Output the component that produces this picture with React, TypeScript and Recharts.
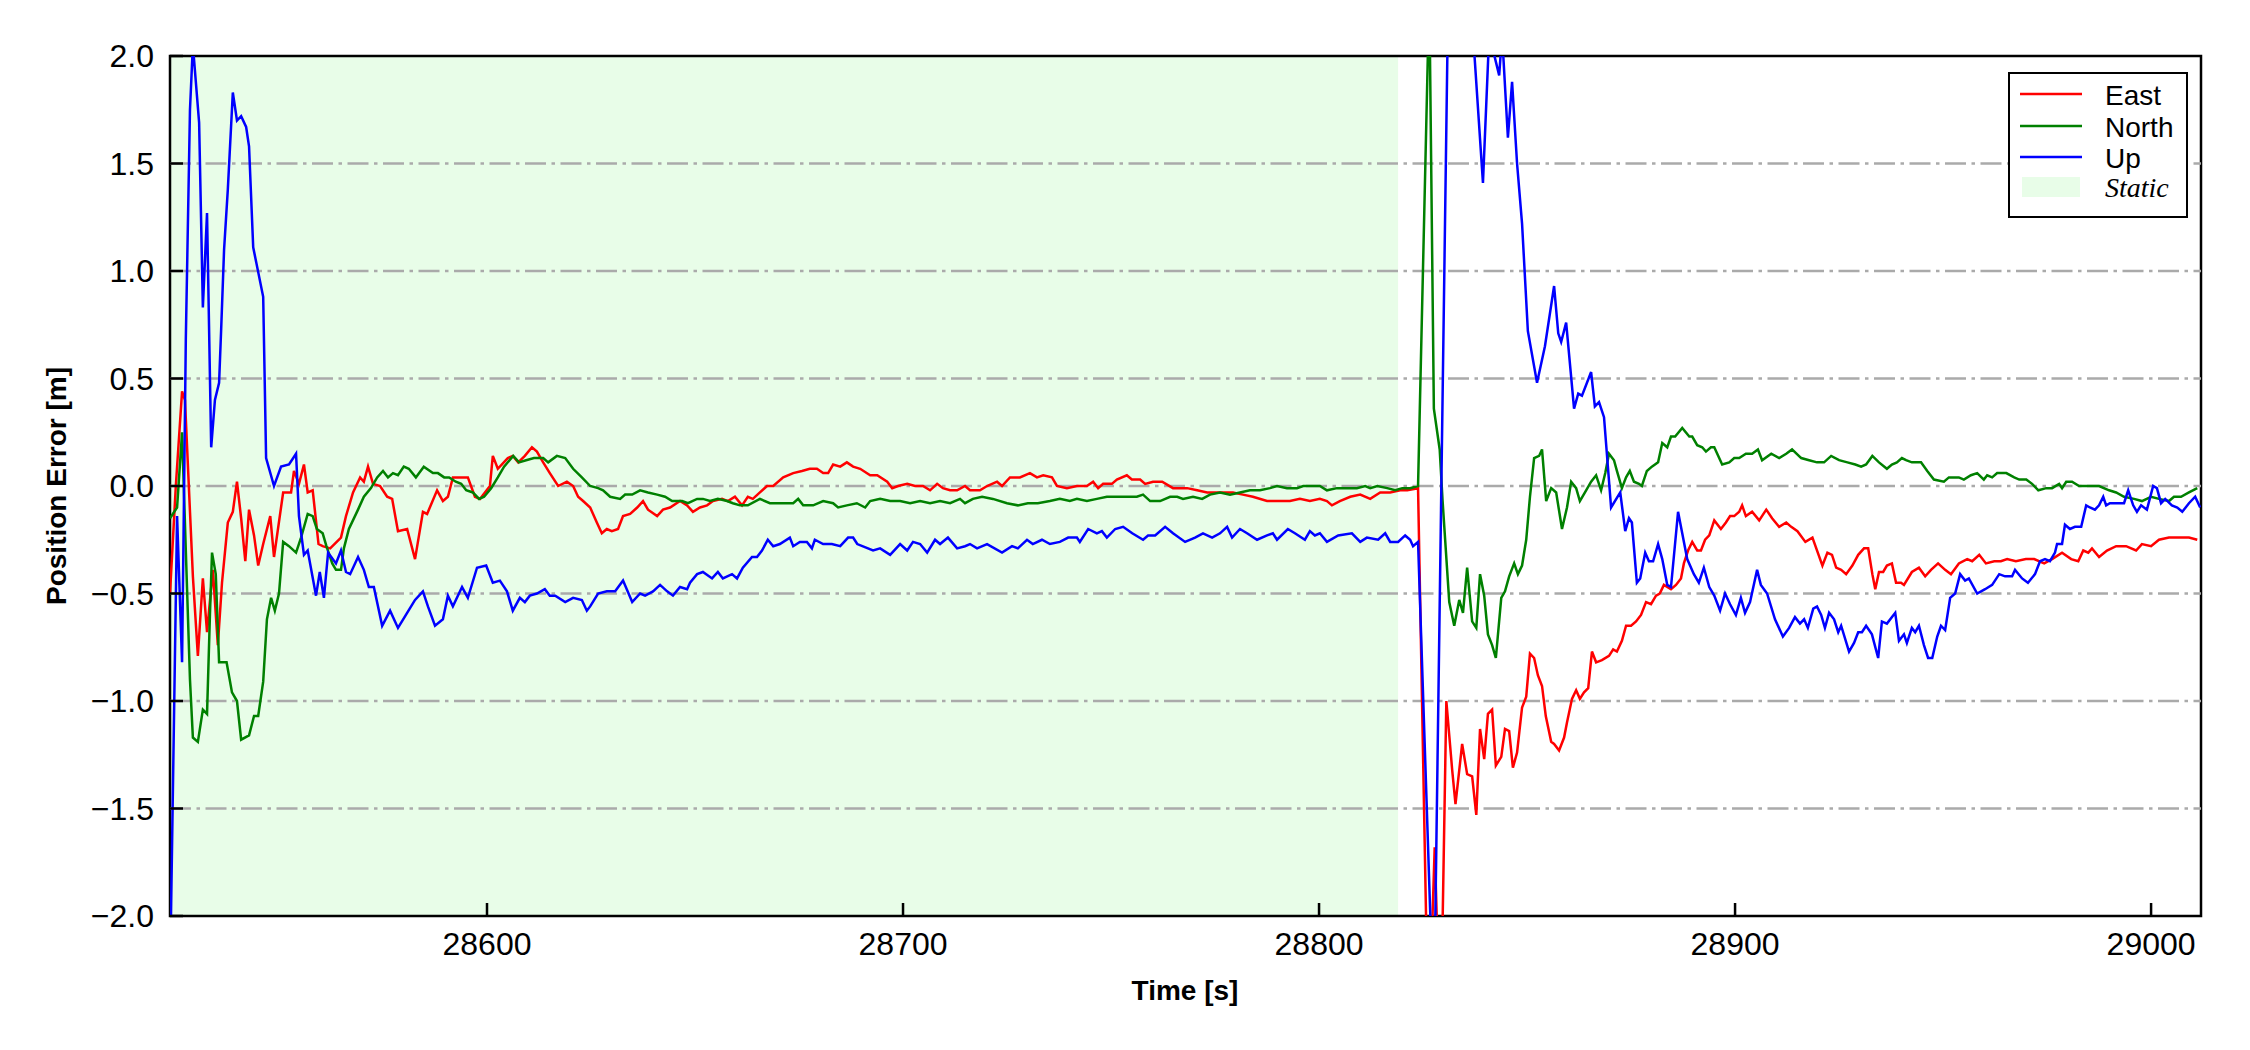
import React from 'react'
import { LineChart, Line, XAxis, YAxis, ReferenceArea, ReferenceLine } from 'recharts'

// [time s, error m]
const east: number[][] = [
  [28523.8, -0.5], [28525.2, 0.0], [28526.7, 0.44], [28527.4, 0.4], [28529.3, -0.42], [28530.5, -0.79], [28531.7, -0.43],
  [28532.7, -0.68], [28534.1, -0.39], [28535.3, -0.74], [28536.3, -0.45], [28537.7, -0.17], [28538.9, -0.12], [28539.9, 0.02],
  [28540.9, -0.15], [28541.9, -0.35], [28542.8, -0.11], [28544.0, -0.23], [28545.0, -0.37], [28546.2, -0.27], [28547.9, -0.14],
  [28548.8, -0.33], [28551.0, -0.03], [28552.9, -0.03], [28553.6, 0.07], [28554.8, 0.01], [28556.0, 0.1], [28556.9, -0.03],
  [28558.1, -0.02], [28559.5, -0.27], [28560.5, -0.28], [28562.3, -0.29], [28564.9, -0.24], [28566.1, -0.14], [28567.8, -0.03],
  [28569.5, 0.04], [28570.4, 0.02], [28571.4, 0.09], [28572.6, 0.01], [28574.3, 0.0], [28576.0, -0.05], [28577.2, -0.06],
  [28578.6, -0.21], [28580.8, -0.2], [28582.7, -0.34], [28584.6, -0.12], [28585.6, -0.13], [28588.0, -0.02], [28589.4, -0.07],
  [28590.6, -0.05], [28591.8, 0.04], [28594.0, 0.04], [28595.4, 0.04], [28597.1, -0.05], [28598.3, -0.06], [28599.5, -0.03],
  [28600.7, 0.0], [28601.4, 0.14], [28602.6, 0.08], [28605.0, 0.13], [28606.2, 0.14], [28607.5, 0.11], [28609.1, 0.14],
  [28610.8, 0.18], [28612.0, 0.16], [28613.5, 0.11], [28615.1, 0.06], [28617.1, 0.0], [28619.2, 0.02], [28620.7, 0.0],
  [28621.9, -0.05], [28623.1, -0.07], [28624.8, -0.1], [28626.4, -0.17], [28627.6, -0.22], [28628.8, -0.2], [28630.0, -0.21],
  [28631.5, -0.2], [28632.7, -0.14], [28634.4, -0.13], [28636.1, -0.1], [28637.5, -0.07], [28638.7, -0.11], [28640.9, -0.14],
  [28642.3, -0.11], [28644.0, -0.1], [28646.4, -0.07], [28648.1, -0.09], [28649.5, -0.12], [28651.2, -0.1], [28652.9, -0.09],
  [28654.3, -0.07], [28656.5, -0.06], [28657.9, -0.07], [28659.6, -0.05], [28661.3, -0.09], [28662.7, -0.05], [28663.9, -0.06],
  [28665.6, -0.03], [28667.3, 0.0], [28668.8, 0.0], [28671.2, 0.04], [28673.6, 0.06], [28675.7, 0.07], [28677.6, 0.08],
  [28679.3, 0.08], [28680.8, 0.06], [28682.0, 0.06], [28683.2, 0.1], [28684.9, 0.09], [28686.5, 0.11], [28688.0, 0.09],
  [28689.7, 0.08], [28692.1, 0.05], [28693.8, 0.05], [28696.2, 0.02], [28697.4, -0.01], [28698.8, 0.0], [28701.0, 0.01],
  [28702.9, 0.0], [28704.8, 0.0], [28706.5, -0.02], [28708.2, 0.01], [28709.6, -0.01], [28711.3, -0.02], [28713.0, -0.02],
  [28714.9, 0.0], [28716.1, -0.02], [28718.5, -0.02], [28720.2, 0.0], [28722.6, 0.02], [28723.8, 0.0], [28725.7, 0.04],
  [28728.1, 0.04], [28730.5, 0.06], [28732.2, 0.04], [28733.7, 0.05], [28735.8, 0.04], [28737.0, 0.0], [28739.4, -0.01],
  [28741.8, 0.0], [28744.2, 0.0], [28745.7, 0.02], [28746.9, -0.01], [28748.1, 0.01], [28750.2, 0.01], [28751.4, 0.03],
  [28753.8, 0.05], [28755.0, 0.03], [28757.0, 0.03], [28758.2, 0.01], [28760.1, 0.02], [28762.3, 0.02], [28764.9, -0.01],
  [28768.3, -0.01], [28770.7, -0.02], [28773.1, -0.03], [28776.2, -0.03], [28779.3, -0.03], [28781.7, -0.04], [28784.1, -0.05],
  [28787.5, -0.07], [28790.6, -0.07], [28793.0, -0.07], [28795.4, -0.06], [28797.8, -0.07], [28800.2, -0.06], [28801.9, -0.07],
  [28803.1, -0.09], [28805.0, -0.07], [28807.5, -0.05], [28809.9, -0.04], [28812.3, -0.06], [28814.7, -0.03], [28817.1, -0.03],
  [28819.5, -0.02], [28821.2, -0.02], [28823.8, -0.01], [28826.3, -2.6], [28827.8, -1.68], [28829.2, -2.6], [28830.6, -1.0],
  [28832.0, -1.32], [28832.8, -1.48], [28834.4, -1.2], [28835.6, -1.34], [28836.8, -1.35], [28837.8, -1.53], [28838.7, -1.13],
  [28839.7, -1.27], [28840.6, -1.06], [28841.6, -1.04], [28842.5, -1.3], [28843.8, -1.26], [28844.7, -1.13], [28845.7, -1.14],
  [28846.6, -1.31], [28847.6, -1.24], [28848.8, -1.03], [28849.8, -0.98], [28850.7, -0.78], [28851.7, -0.8], [28852.6, -0.88],
  [28853.6, -0.93], [28854.5, -1.07], [28855.8, -1.19], [28856.5, -1.2], [28857.7, -1.23], [28858.9, -1.17], [28859.6, -1.1],
  [28860.8, -0.99], [28861.8, -0.95], [28862.7, -0.99], [28863.7, -0.96], [28864.7, -0.94], [28865.6, -0.77], [28866.6, -0.82],
  [28868.0, -0.81], [28869.7, -0.79], [28870.7, -0.76], [28871.6, -0.77], [28872.8, -0.72], [28873.8, -0.65], [28875.0, -0.65],
  [28876.2, -0.63], [28877.4, -0.6], [28878.6, -0.54], [28879.8, -0.55], [28881.0, -0.51], [28881.9, -0.5], [28882.9, -0.46],
  [28884.6, -0.48], [28885.8, -0.46], [28887.0, -0.43], [28887.7, -0.36], [28888.7, -0.3], [28889.7, -0.26], [28890.9, -0.3],
  [28891.8, -0.3], [28892.8, -0.25], [28893.8, -0.23], [28895.0, -0.16], [28896.6, -0.2], [28897.8, -0.17], [28898.8, -0.14],
  [28899.8, -0.14], [28901.0, -0.12], [28901.7, -0.09], [28902.6, -0.14], [28904.1, -0.12], [28905.8, -0.16], [28907.5, -0.11],
  [28908.9, -0.15], [28910.6, -0.19], [28912.3, -0.17], [28913.5, -0.19], [28915.0, -0.21], [28916.9, -0.26], [28918.6, -0.24],
  [28921.0, -0.37], [28922.2, -0.31], [28923.3, -0.32], [28924.3, -0.38], [28925.5, -0.39], [28926.7, -0.41], [28928.2, -0.37],
  [28929.6, -0.32], [28931.0, -0.29], [28932.0, -0.29], [28933.0, -0.41], [28933.7, -0.48], [28934.6, -0.4], [28935.6, -0.4],
  [28936.5, -0.37], [28937.7, -0.36], [28938.7, -0.45], [28939.9, -0.45], [28940.6, -0.46], [28942.5, -0.4], [28944.2, -0.38],
  [28945.7, -0.42], [28947.1, -0.39], [28948.8, -0.36], [28950.5, -0.39], [28951.9, -0.41], [28953.8, -0.36], [28955.8, -0.34],
  [28957.0, -0.35], [28958.7, -0.32], [28960.3, -0.36], [28962.3, -0.35], [28963.9, -0.35], [28965.4, -0.34], [28967.5, -0.35],
  [28969.9, -0.34], [28971.9, -0.34], [28974.3, -0.36], [28976.2, -0.34], [28978.6, -0.31], [28980.8, -0.34], [28982.5, -0.35],
  [28983.7, -0.3], [28984.9, -0.31], [28985.8, -0.29], [28987.5, -0.33], [28989.4, -0.3], [28991.6, -0.28], [28994.0, -0.28],
  [28996.4, -0.3], [28997.8, -0.27], [29000.0, -0.28], [29001.9, -0.25], [29004.3, -0.24], [29006.7, -0.24], [29009.1, -0.24],
  [29011.1, -0.25],
]

const north: number[][] = [
  [28523.8, -0.15], [28525.5, -0.1], [28526.7, 0.25], [28527.6, -0.3], [28528.6, -0.9], [28529.3, -1.17], [28530.5, -1.19],
  [28531.7, -1.04], [28532.7, -1.06], [28533.4, -0.6], [28533.9, -0.31], [28534.8, -0.41], [28535.6, -0.82], [28537.4, -0.82],
  [28538.7, -0.96], [28539.9, -1.0], [28540.9, -1.18], [28542.8, -1.16], [28544.0, -1.07], [28545.0, -1.07], [28546.2, -0.91],
  [28547.1, -0.62], [28548.1, -0.52], [28549.0, -0.58], [28550.0, -0.5], [28551.0, -0.26], [28552.4, -0.28], [28554.1, -0.31],
  [28555.3, -0.24], [28556.9, -0.13], [28558.1, -0.14], [28559.1, -0.2], [28560.5, -0.22], [28561.4, -0.28], [28562.8, -0.36],
  [28563.7, -0.39], [28564.9, -0.39], [28565.6, -0.29], [28566.8, -0.2], [28569.0, -0.11], [28570.4, -0.05], [28572.1, -0.01],
  [28573.6, 0.04], [28575.0, 0.07], [28576.2, 0.04], [28577.4, 0.06], [28578.6, 0.05], [28580.0, 0.09], [28581.2, 0.08],
  [28582.9, 0.04], [28584.8, 0.09], [28587.0, 0.06], [28588.2, 0.06], [28589.7, 0.04], [28590.9, 0.04], [28592.5, 0.02],
  [28593.8, 0.01], [28595.0, -0.02], [28596.6, -0.03], [28598.1, -0.06], [28599.3, -0.05], [28601.0, -0.01], [28602.6, 0.04],
  [28604.1, 0.09], [28606.3, 0.14], [28607.7, 0.11], [28609.4, 0.12], [28611.3, 0.13], [28613.5, 0.13], [28614.7, 0.11],
  [28616.8, 0.14], [28618.8, 0.13], [28620.7, 0.08], [28622.8, 0.04], [28624.8, 0.0], [28626.7, -0.01], [28627.9, -0.02],
  [28629.6, -0.05], [28632.0, -0.06], [28633.2, -0.04], [28634.9, -0.04], [28636.8, -0.02], [28638.7, -0.03], [28640.9, -0.04],
  [28642.8, -0.05], [28644.5, -0.07], [28646.9, -0.07], [28648.3, -0.08], [28650.5, -0.06], [28651.9, -0.06], [28653.6, -0.07],
  [28655.5, -0.06], [28657.7, -0.07], [28659.1, -0.08], [28660.8, -0.09], [28662.7, -0.09], [28665.6, -0.06], [28668.0, -0.08],
  [28670.4, -0.08], [28673.6, -0.08], [28674.8, -0.06], [28676.0, -0.09], [28678.4, -0.09], [28680.8, -0.07], [28683.2, -0.08],
  [28684.4, -0.1], [28686.5, -0.09], [28688.9, -0.08], [28690.9, -0.1], [28692.1, -0.07], [28694.5, -0.06], [28696.9, -0.07],
  [28699.3, -0.07], [28701.7, -0.08], [28704.1, -0.07], [28706.5, -0.08], [28708.9, -0.07], [28711.3, -0.08], [28713.7, -0.06],
  [28714.9, -0.08], [28716.8, -0.06], [28719.0, -0.05], [28721.6, -0.06], [28725.0, -0.08], [28727.6, -0.09], [28730.0, -0.08],
  [28732.4, -0.08], [28735.3, -0.07], [28737.7, -0.06], [28740.1, -0.07], [28741.8, -0.06], [28744.2, -0.07], [28746.6, -0.06],
  [28749.0, -0.05], [28751.4, -0.05], [28753.8, -0.05], [28756.2, -0.05], [28757.7, -0.04], [28759.4, -0.07], [28761.8, -0.07],
  [28764.2, -0.05], [28765.9, -0.05], [28767.3, -0.06], [28769.7, -0.05], [28771.9, -0.06], [28773.8, -0.04], [28776.2, -0.03],
  [28778.6, -0.04], [28781.0, -0.03], [28783.4, -0.02], [28785.8, -0.02], [28788.2, -0.01], [28789.9, 0.0], [28792.3, -0.01],
  [28794.7, -0.01], [28796.2, 0.0], [28797.8, 0.0], [28800.2, 0.0], [28801.9, -0.02], [28804.3, -0.01], [28806.7, -0.01],
  [28809.1, -0.01], [28811.1, 0.0], [28812.3, -0.01], [28814.0, 0.0], [28816.4, -0.01], [28818.3, -0.02], [28820.0, -0.01],
  [28821.9, -0.01], [28823.8, 0.0], [28826.5, 2.3], [28827.6, 0.36], [28829.0, 0.17], [28829.7, -0.07], [28831.3, -0.54],
  [28832.5, -0.65], [28833.7, -0.53], [28834.6, -0.59], [28835.6, -0.38], [28836.8, -0.63], [28837.8, -0.66], [28838.7, -0.41],
  [28839.7, -0.51], [28840.6, -0.69], [28841.6, -0.74], [28842.5, -0.8], [28843.8, -0.52], [28844.7, -0.49], [28845.7, -0.42],
  [28846.9, -0.36], [28847.8, -0.41], [28848.8, -0.37], [28849.8, -0.25], [28850.7, -0.05], [28851.7, 0.13], [28852.9, 0.14],
  [28853.6, 0.17], [28854.6, -0.07], [28855.8, -0.01], [28857.0, -0.03], [28858.4, -0.2], [28859.6, -0.1], [28860.6, 0.02],
  [28861.8, -0.01], [28862.7, -0.07], [28864.2, -0.02], [28865.4, 0.02], [28866.6, 0.05], [28867.8, -0.02], [28868.8, 0.06],
  [28869.7, 0.15], [28870.9, 0.12], [28871.6, 0.07], [28872.8, -0.01], [28873.8, 0.04], [28874.7, 0.07], [28875.7, 0.02],
  [28876.9, 0.01], [28877.6, 0.0], [28878.8, 0.07], [28880.0, 0.09], [28881.5, 0.11], [28882.5, 0.2], [28883.7, 0.18],
  [28884.6, 0.23], [28885.6, 0.23], [28887.3, 0.27], [28889.0, 0.23], [28889.7, 0.23], [28890.9, 0.19], [28892.1, 0.18],
  [28893.0, 0.16], [28894.2, 0.18], [28895.0, 0.18], [28896.9, 0.1], [28898.6, 0.11], [28899.8, 0.13], [28901.0, 0.13],
  [28902.6, 0.15], [28904.1, 0.15], [28905.5, 0.17], [28906.5, 0.12], [28908.7, 0.15], [28910.6, 0.13], [28912.3, 0.15],
  [28913.7, 0.17], [28915.9, 0.13], [28917.8, 0.12], [28919.7, 0.11], [28921.4, 0.11], [28923.1, 0.14], [28925.0, 0.12],
  [28927.0, 0.11], [28928.9, 0.1], [28930.3, 0.09], [28931.5, 0.1], [28933.0, 0.14], [28934.6, 0.11], [28936.5, 0.08],
  [28937.7, 0.1], [28938.9, 0.11], [28940.1, 0.13], [28941.1, 0.12], [28942.5, 0.11], [28944.7, 0.11], [28946.2, 0.07],
  [28947.8, 0.03], [28950.2, 0.02], [28951.4, 0.04], [28953.8, 0.04], [28955.0, 0.03], [28956.7, 0.05], [28958.2, 0.06],
  [28959.8, 0.03], [28960.6, 0.05], [28961.8, 0.04], [28963.0, 0.06], [28965.2, 0.06], [28967.1, 0.04], [28968.3, 0.03],
  [28970.0, 0.03], [28971.4, 0.01], [28972.9, -0.02], [28974.8, -0.01], [28976.2, -0.01], [28977.9, 0.01], [28978.6, -0.01],
  [28979.6, 0.02], [28981.0, 0.02], [28982.7, 0.0], [28985.1, 0.0], [28987.5, 0.0], [28989.9, -0.02], [28991.6, -0.03],
  [28993.5, -0.05], [28995.9, -0.06], [28997.8, -0.07], [29000.0, -0.05], [29001.9, -0.06], [29004.3, -0.07], [29005.5, -0.05],
  [29007.2, -0.05], [29009.1, -0.03], [29011.1, -0.01],
]

const up: number[][] = [
  [28523.8, -2.3], [28525.5, -0.14], [28526.7, -0.82], [28527.6, 0.68], [28528.6, 1.75], [28529.3, 2.05], [28530.8, 1.69],
  [28531.7, 0.83], [28532.7, 1.27], [28533.7, 0.18], [28534.6, 0.4], [28535.6, 0.48], [28536.1, 0.73], [28536.8, 1.1],
  [28537.7, 1.38], [28538.9, 1.83], [28539.9, 1.7], [28540.9, 1.72], [28542.1, 1.67], [28542.8, 1.58], [28543.8, 1.11],
  [28546.2, 0.88], [28546.9, 0.13], [28548.8, 0.0], [28550.5, 0.09], [28552.4, 0.1], [28554.1, 0.15], [28554.8, -0.14],
  [28556.0, -0.32], [28556.9, -0.3], [28558.9, -0.51], [28559.8, -0.4], [28560.8, -0.52], [28561.8, -0.31], [28563.7, -0.36],
  [28564.9, -0.3], [28566.1, -0.4], [28567.1, -0.41], [28569.0, -0.33], [28570.4, -0.39], [28571.6, -0.47], [28572.8, -0.47],
  [28574.8, -0.65], [28576.7, -0.58], [28578.6, -0.66], [28580.8, -0.59], [28582.7, -0.53], [28584.6, -0.49], [28585.8, -0.56],
  [28587.5, -0.65], [28589.4, -0.62], [28590.6, -0.51], [28591.8, -0.56], [28594.0, -0.47], [28595.4, -0.52], [28597.6, -0.38],
  [28599.8, -0.37], [28601.4, -0.45], [28603.1, -0.44], [28604.8, -0.49], [28606.2, -0.58], [28607.9, -0.52], [28609.1, -0.54],
  [28610.3, -0.51], [28612.0, -0.5], [28613.9, -0.48], [28615.1, -0.51], [28616.4, -0.51], [28618.8, -0.54], [28620.7, -0.52],
  [28622.8, -0.53], [28624.0, -0.58], [28624.8, -0.56], [28626.7, -0.5], [28628.8, -0.49], [28630.8, -0.49], [28632.7, -0.44],
  [28634.9, -0.54], [28636.8, -0.5], [28638.0, -0.51], [28639.9, -0.49], [28641.6, -0.46], [28643.3, -0.49], [28644.7, -0.51],
  [28646.4, -0.47], [28648.1, -0.48], [28648.8, -0.45], [28650.5, -0.41], [28651.9, -0.4], [28654.1, -0.43], [28655.5, -0.4],
  [28656.7, -0.43], [28658.9, -0.41], [28660.1, -0.43], [28661.5, -0.38], [28663.7, -0.33], [28664.9, -0.33], [28666.1, -0.3],
  [28667.5, -0.25], [28668.8, -0.28], [28670.4, -0.27], [28672.8, -0.24], [28673.6, -0.28], [28675.2, -0.26], [28676.9, -0.26],
  [28678.1, -0.29], [28678.8, -0.25], [28680.8, -0.27], [28682.9, -0.27], [28684.9, -0.28], [28686.8, -0.24], [28688.0, -0.24],
  [28689.0, -0.27], [28692.8, -0.3], [28694.5, -0.29], [28696.9, -0.32], [28699.3, -0.27], [28701.0, -0.3], [28702.4, -0.26],
  [28704.1, -0.27], [28705.8, -0.31], [28707.7, -0.25], [28708.9, -0.27], [28710.8, -0.24], [28713.0, -0.29], [28714.9, -0.28],
  [28716.1, -0.27], [28717.8, -0.29], [28720.2, -0.27], [28723.8, -0.31], [28726.2, -0.28], [28727.6, -0.29], [28729.8, -0.25],
  [28731.2, -0.27], [28733.4, -0.25], [28735.3, -0.27], [28737.7, -0.26], [28739.7, -0.24], [28741.8, -0.24], [28742.5, -0.26],
  [28744.5, -0.2], [28746.6, -0.22], [28747.8, -0.21], [28749.0, -0.24], [28751.0, -0.2], [28752.9, -0.19], [28755.1, -0.22],
  [28757.7, -0.25], [28758.9, -0.23], [28760.6, -0.23], [28763.0, -0.19], [28764.9, -0.22], [28767.8, -0.26], [28770.2, -0.24],
  [28772.1, -0.22], [28774.3, -0.24], [28776.2, -0.22], [28777.9, -0.19], [28779.1, -0.24], [28781.0, -0.2], [28782.7, -0.22],
  [28785.1, -0.25], [28787.5, -0.23], [28788.9, -0.22], [28789.9, -0.25], [28792.5, -0.2], [28794.2, -0.22], [28796.6, -0.25],
  [28797.8, -0.21], [28799.0, -0.23], [28800.2, -0.22], [28801.9, -0.26], [28804.6, -0.23], [28807.9, -0.22], [28809.9, -0.26],
  [28811.5, -0.24], [28814.2, -0.25], [28815.9, -0.22], [28817.1, -0.26], [28819.0, -0.26], [28820.7, -0.23], [28821.9, -0.25],
  [28822.6, -0.28], [28823.8, -0.26], [28827.6, -2.5], [28831.2, 2.5], [28834.9, 2.8], [28837.2, 2.05], [28839.4, 1.41],
  [28840.9, 2.1], [28843.3, 1.91], [28844.0, 2.1], [28845.4, 1.62], [28846.4, 1.88], [28847.6, 1.5], [28848.8, 1.22],
  [28850.2, 0.72], [28852.4, 0.48], [28854.3, 0.65], [28856.5, 0.93], [28857.5, 0.71], [28858.2, 0.67], [28859.4, 0.76],
  [28861.3, 0.36], [28862.3, 0.43], [28863.2, 0.42], [28865.4, 0.53], [28866.3, 0.37], [28867.3, 0.39], [28868.5, 0.32],
  [28870.2, -0.1], [28872.4, -0.03], [28873.6, -0.21], [28874.5, -0.15], [28875.2, -0.17], [28876.4, -0.45], [28877.2, -0.43],
  [28878.4, -0.31], [28879.3, -0.35], [28880.3, -0.35], [28881.5, -0.27], [28882.5, -0.34], [28883.7, -0.46], [28884.6, -0.47],
  [28886.3, -0.12], [28887.3, -0.22], [28888.5, -0.34], [28890.1, -0.41], [28891.3, -0.45], [28892.5, -0.38], [28893.8, -0.47],
  [28895.0, -0.51], [28896.4, -0.58], [28897.6, -0.5], [28898.8, -0.55], [28900.2, -0.6], [28901.4, -0.52], [28902.4, -0.59],
  [28903.6, -0.54], [28905.3, -0.39], [28906.2, -0.46], [28907.7, -0.5], [28909.6, -0.62], [28911.5, -0.7], [28913.0, -0.66],
  [28914.4, -0.61], [28915.6, -0.64], [28916.6, -0.62], [28917.5, -0.66], [28918.8, -0.57], [28919.7, -0.56], [28920.7, -0.6],
  [28921.6, -0.66], [28922.6, -0.59], [28923.8, -0.62], [28924.8, -0.68], [28925.5, -0.65], [28927.4, -0.77], [28928.6, -0.73],
  [28929.6, -0.68], [28930.5, -0.68], [28931.5, -0.65], [28932.9, -0.69], [28934.4, -0.8], [28935.3, -0.63], [28936.5, -0.64],
  [28938.5, -0.59], [28939.4, -0.72], [28940.6, -0.69], [28941.3, -0.73], [28942.5, -0.66], [28943.3, -0.68], [28944.2, -0.65],
  [28945.4, -0.74], [28946.4, -0.8], [28947.4, -0.8], [28948.6, -0.7], [28949.5, -0.65], [28950.5, -0.67], [28951.7, -0.52],
  [28952.9, -0.5], [28954.1, -0.41], [28955.3, -0.44], [28956.2, -0.43], [28958.2, -0.5], [28960.1, -0.48], [28961.8, -0.46],
  [28963.5, -0.41], [28964.9, -0.42], [28966.6, -0.42], [28967.3, -0.39], [28969.0, -0.43], [28970.4, -0.45], [28972.1, -0.41],
  [28973.3, -0.35], [28974.5, -0.34], [28975.7, -0.35], [28976.9, -0.31], [28977.4, -0.27], [28978.6, -0.27], [28979.3, -0.18],
  [28980.5, -0.2], [28981.7, -0.19], [28983.2, -0.19], [28984.4, -0.09], [28985.3, -0.1], [28986.5, -0.11], [28987.5, -0.09],
  [28988.5, -0.05], [28989.2, -0.09], [28990.1, -0.08], [28991.8, -0.08], [28993.5, -0.08], [28994.5, -0.02], [28995.7, -0.09],
  [28996.6, -0.12], [28997.6, -0.09], [28999.0, -0.11], [29000.5, 0.0], [29001.4, -0.01], [29002.4, -0.08], [29003.4, -0.06],
  [29005.0, -0.09], [29006.3, -0.1], [29007.5, -0.12], [29009.1, -0.08], [29010.6, -0.05], [29011.8, -0.1],
]

const xTicks = [28600, 28700, 28800, 28900, 29000]
const yTicks = [-2, -1.5, -1, -0.5, 0, 0.5, 1, 1.5, 2]
const gridLevels = [-1.5, -1, -0.5, 0, 0.5, 1, 1.5]
const tStart = 28523.8
const tEnd = 29012
const staticEnd = 28819

const series = [
  { name: 'East', color: '#ff0000', rows: east },
  { name: 'North', color: '#008000', rows: north },
  { name: 'Up', color: '#0000ff', rows: up },
]

const W = 2234
const H = 1034
const sans = '"Liberation Sans", Arial, Helvetica, sans-serif'
const serif = '"Liberation Serif", "Times New Roman", serif'
const staticFill = '#e8fde8'

const toPoints = (rows: number[][]) => rows.map(([t, v]) => ({ t, v }))

const fmtY = (v: number) => (v < 0 ? '\u2212' : '') + Math.abs(v).toFixed(1)

const YTick = (props: any) => {
  const { x, y, payload } = props
  return (
    <g>
      <line x1={x} y1={y} x2={x + 13} y2={y} stroke="#000" strokeWidth={2.5} />
      <text x={x - 16} y={y} dy={11} textAnchor="end" fontSize={32} fontFamily={sans} fill="#000">
        {fmtY(payload.value)}
      </text>
    </g>
  )
}

const XTick = (props: any) => {
  const { x, y, payload } = props
  return (
    <g>
      <line x1={x} y1={y} x2={x} y2={y - 13} stroke="#000" strokeWidth={2.5} />
      <text x={x} y={y + 39} textAnchor="middle" fontSize={32} fontFamily={sans} fill="#000">
        {payload.value}
      </text>
    </g>
  )
}

export default function App() {
  const rowY = [86, 118, 149]
  return (
    <div style={{ position: 'relative', width: W, height: H }}>
      <LineChart width={W} height={H} margin={{ top: 48, right: 41, bottom: 0, left: 0 }}>
        <ReferenceArea x1={tStart} x2={staticEnd} y1={-2} y2={2} fill={staticFill} fillOpacity={1} stroke="none" />
        {gridLevels.map((g) => (
          <ReferenceLine key={g} y={g} stroke="#aaaaaa" strokeWidth={2.3} strokeDasharray="21 5.5 3.5 5.5" />
        ))}
        <XAxis
          type="number"
          dataKey="t"
          domain={[tStart, tEnd]}
          ticks={xTicks}
          interval={0}
          allowDataOverflow
          height={126}
          axisLine={false}
          tickLine={false}
          tickSize={0}
          tickMargin={0}
          tick={<XTick />}
        />
        <YAxis
          type="number"
          domain={[-2, 2]}
          ticks={yTicks}
          interval={0}
          allowDataOverflow
          width={162}
          axisLine={false}
          tickLine={false}
          tickSize={0}
          tickMargin={0}
          tick={<YTick />}
        />
        {series.map((s) => (
          <Line
            key={s.name}
            data={toPoints(s.rows)}
            dataKey="v"
            name={s.name}
            type="linear"
            stroke={s.color}
            strokeWidth={2.5}
            dot={false}
            activeDot={false}
            isAnimationActive={false}
          />
        ))}
        <ReferenceArea x1={tStart} x2={tEnd} y1={-2} y2={2} fill="none" stroke="#000" strokeWidth={2.5} />
      </LineChart>

      <svg width={W} height={H} style={{ position: 'absolute', left: 0, top: 0, pointerEvents: 'none' }}>
        <text x={58} y={478} transform="rotate(-90 58 478)" textAnchor="middle" fontSize={28} fontWeight="bold" fontFamily={sans}>
          Position Error [m]
        </text>
        <text x={1177} y={992} textAnchor="middle" fontSize={28} fontWeight="bold" fontFamily={sans}>
          Time [s]
        </text>

        <rect x={2001} y={65} width={178} height={144} fill="#fff" stroke="#000" strokeWidth={2} />
        {series.map((s, i) => (
          <g key={s.name}>
            <line x1={2012} x2={2074} y1={rowY[i]} y2={rowY[i]} stroke={s.color} strokeWidth={2.5} />
            <text x={2097} y={rowY[i] + 11} fontSize={28} fontFamily={sans}>
              {s.name}
            </text>
          </g>
        ))}
        <rect x={2014} y={169} width={58} height={20} fill={staticFill} />
        <text x={2097} y={189} fontSize={28} fontStyle="italic" fontFamily={serif}>
          Static
        </text>
      </svg>
    </div>
  )
}
